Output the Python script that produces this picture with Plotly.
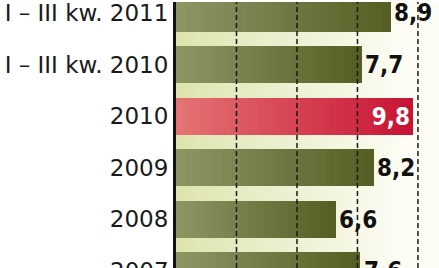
import plotly.graph_objects as go

categories = ["I – III kw. 2011", "I – III kw. 2010", "2010", "2009", "2008", "2007"]
values = [8.9, 7.7, 9.8, 8.2, 6.6, 7.6]
labels = ["8,9", "7,7", "9,8", "8,2", "6,6", "7,6"]
highlight = [False, False, True, False, False, False]
gridlines = [2.5, 5, 7.5, 10]

OLIVE_L, OLIVE_D = (142, 150, 102), (84, 94, 34)
RED_L, RED_D = (228, 116, 116), (200, 18, 52)
BG_L, BG_R = (222, 228, 174), (253, 253, 246)

VAL_FONT = dict(family="DejaVu Sans Condensed", size=24, weight="bold")
CAT_FONT = dict(family="DejaVu Sans", size=23, color="#1a1a1a")


def mix(a, b, t):
    return "rgb(%d,%d,%d)" % tuple(round(a[i] + (b[i] - a[i]) * t) for i in range(3))


fig = go.Figure()
N = 40
for k in range(N):
    fe = 1 - k / N
    fc = 1 - (k + 0.5) / N
    cols = [mix(RED_L, RED_D, fc) if h else mix(OLIVE_L, OLIVE_D, fc) for h in highlight]
    fig.add_trace(go.Bar(
        y=categories, x=[v * fe for v in values], orientation="h",
        marker=dict(color=cols, line=dict(width=0)), width=0.72,
        hoverinfo="skip", showlegend=False))

fig.add_trace(go.Bar(
    y=categories, x=values, orientation="h", width=0.72,
    marker=dict(color="rgba(0,0,0,0)", line=dict(width=0)),
    text=labels,
    textposition=["inside" if h else "outside" for h in highlight],
    insidetextanchor="end",
    textfont=dict(**VAL_FONT, color=["white" if h else "#111" for h in highlight]),
    constraintext="none", cliponaxis=False,
    hoverinfo="skip", showlegend=False))

XMAX = 10.87
YBOT, YTOP = 4.942, -0.2115
shapes = []
S = 60
xend = 9.6
for i in range(S):
    x0 = xend * i / S
    x1 = xend * (i + 1) / S + 0.02
    shapes.append(dict(type="rect", xref="x", yref="paper", x0=x0, x1=x1, y0=0, y1=1,
                       fillcolor=mix(BG_L, BG_R, (i + 0.5) / S), line=dict(width=0), layer="below"))
shapes.append(dict(type="rect", xref="x", yref="paper", x0=xend, x1=XMAX, y0=0, y1=1,
                   fillcolor=mix(BG_L, BG_R, 1), line=dict(width=0), layer="below"))
for g in gridlines:
    shapes.append(dict(type="line", xref="x", yref="paper", x0=g, x1=g, y0=0, y1=1,
                       line=dict(color="#1a1a1a", width=1.5, dash="5px,3px"), layer="above"))

# categories that fall partly below the visible range: label them via paper coords
annotations = []
for i, (c, v, lab, h) in enumerate(zip(categories, values, labels, highlight)):
    if i > YBOT:
        yp = (YBOT - i) / (YBOT - YTOP)
        annotations.append(dict(xref="paper", yref="paper", x=0, y=yp, text=c,
                                xanchor="right", yanchor="middle", xshift=-5,
                                showarrow=False, font=CAT_FONT))
        annotations.append(dict(xref="x", yref="paper", x=v, y=yp, text=lab,
                                xanchor="left", yanchor="middle", xshift=2,
                                showarrow=False,
                                font=dict(**VAL_FONT, color="white" if h else "#111")))

fig.update_layout(
    width=439, height=268, margin=dict(l=176, r=0, t=0, b=0),
    barmode="overlay", bargap=0,
    paper_bgcolor="white", plot_bgcolor="white",
    shapes=shapes, annotations=annotations,
    xaxis=dict(range=[0, XMAX], showgrid=False, zeroline=False, showticklabels=False,
               fixedrange=True),
    yaxis=dict(type="category", categoryorder="array", categoryarray=categories,
               range=[YBOT, YTOP], showgrid=False, zeroline=False,
               showline=True, linecolor="#111", linewidth=3,
               ticks="outside", ticklen=0, tickcolor="rgba(0,0,0,0)",
               tickfont=CAT_FONT),
)

fig.write_html("out.html")
